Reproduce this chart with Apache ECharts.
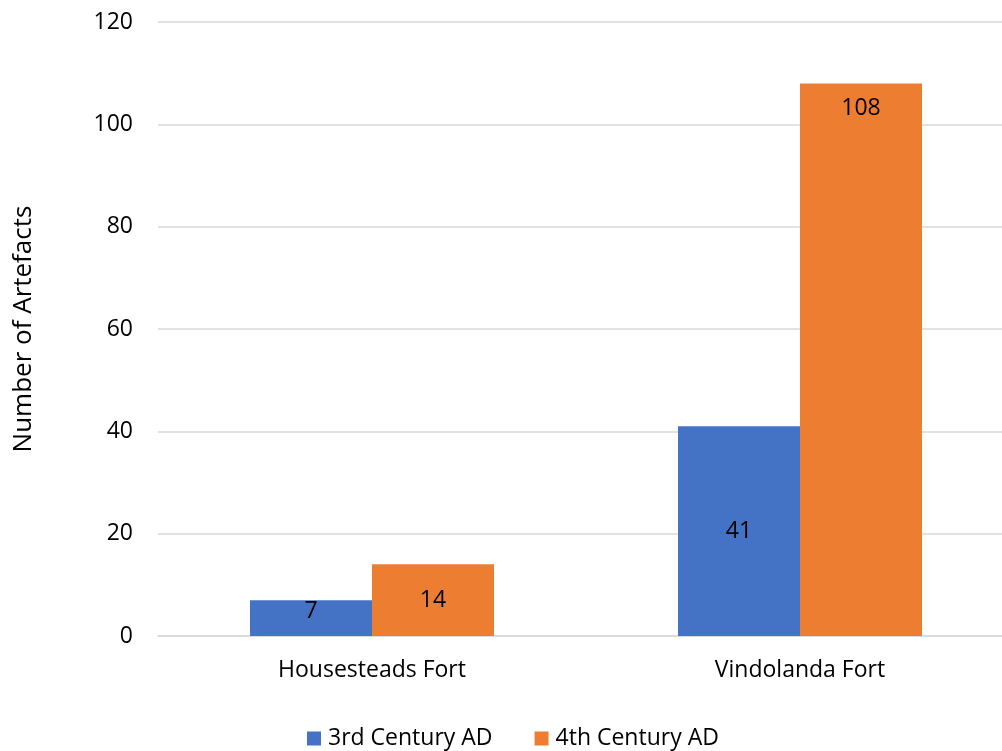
<!DOCTYPE html>
<html>
<head>
<meta charset="utf-8">
<script src="https://cdn.jsdelivr.net/npm/echarts@6/dist/echarts.min.js"></script>
<style>
  html, body { margin: 0; padding: 0; background: #fff; }
  #main { width: 1002px; height: 751px; }
</style>
</head>
<body>
<div id="main"></div>
<script>
let myChart = echarts.init(document.getElementById('main'));

let forts = ['Housesteads Fort', 'Vindolanda Fort'];
let third = [7, 41];
let fourth = [14, 108];

let font = 'Open Sans';
let fs = 23;

// Excel put the labels in different spots; copy that per bar
function labelled(values, spots, gaps) {
    return values.map(function (v, i) {
        return { value: v, label: { position: spots[i], distance: gaps[i] } };
    });
}

let option = {
    animation: false,
    textStyle: { fontFamily: font },
    grid: { left: 158, right: -12, top: 22, bottom: 115, outerBoundsMode: 'none', containLabel: false },
    legend: {
        bottom: -4,
        left: 302,
        itemWidth: 14,
        itemHeight: 14,
        itemGap: 42,
        icon: 'rect',
        textStyle: { fontSize: fs, color: '#000', fontFamily: font, padding: [0, 0, 0, 2] },
        padding: 5
    },
    xAxis: {
        type: 'category',
        data: forts,
        axisLine: { lineStyle: { color: '#d9d9d9', width: 1.5 } },
        axisTick: { show: false },
        axisLabel: { fontSize: fs, color: '#000', margin: 23, fontFamily: font }
    },
    yAxis: {
        type: 'value',
        min: 0,
        max: 120,
        interval: 20,
        name: 'Number of Artefacts',
        nameLocation: 'middle',
        nameGap: 121,
        nameTextStyle: { fontSize: 26, color: '#000', fontFamily: font },
        axisLine: { show: false },
        axisTick: { show: false },
        axisLabel: { fontSize: fs, color: '#000', margin: 25, fontFamily: font },
        splitLine: { lineStyle: { color: '#d9d9d9', width: 1.5 } }
    },
    series: [
        {
            name: '3rd Century AD',
            type: 'bar',
            barWidth: 122,
            barGap: 0,
            itemStyle: { color: '#4472c4' },
            label: { show: true, fontSize: fs, color: '#000', fontFamily: font },
            data: labelled(third, ['insideTop', 'inside'], [0, 0])
        },
        {
            name: '4th Century AD',
            type: 'bar',
            barWidth: 122,
            barGap: 0,
            itemStyle: { color: '#ed7d31' },
            label: { show: true, fontSize: fs, color: '#000', fontFamily: font },
            data: labelled(fourth, ['inside', 'insideTop'], [0, 14])
        }
    ]
};

myChart.setOption(option);
</script>
</body>
</html>
